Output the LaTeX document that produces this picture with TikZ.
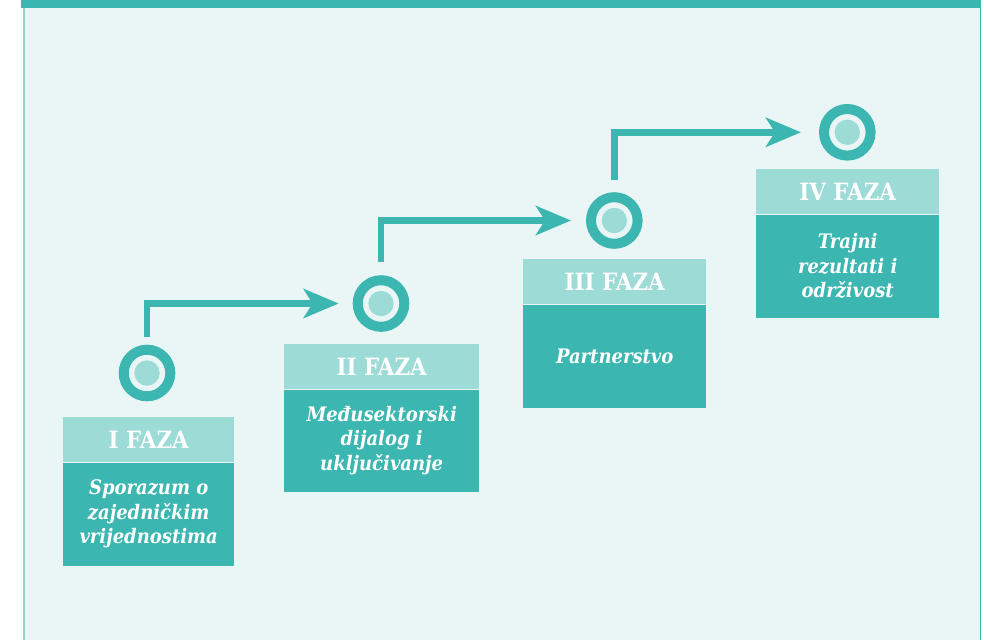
\documentclass[tikz,border=0pt]{standalone}
\usepackage{fontspec}
\setmainfont{DejaVu Serif Condensed}
\usetikzlibrary{arrows.meta}
\definecolor{faza}{HTML}{3BB6B0}
\definecolor{fazalight}{HTML}{9DDBD7}
\definecolor{panel}{HTML}{EAF6F6}
\definecolor{paneledge}{HTML}{8FD3CF}
\tikzset{
  head/.style={fill=fazalight, text=white, anchor=north west, inner sep=0pt,
    minimum height=45pt, font=\bfseries\fontsize{23.8}{25}\selectfont},
  body/.style={fill=faza, text=white, anchor=north west, inner sep=0pt,
    align=center, font=\bfseries\itshape\fontsize{20}{24.5}\selectfont},
  ring/.style={circle, draw=faza, line width=10pt, fill=panel, inner sep=0pt,
    minimum size=46.6pt,
    path picture={\fill[fazalight] (path picture bounding box.center) circle (12.7pt);}},
  flow/.style={draw=faza, line width=6.5pt,
    -{Stealth[length=35pt, width=29pt, inset=9pt]}}
}

\begin{document}
\begin{tikzpicture}[x=1pt, y=-1pt]
\useasboundingbox (0,0) rectangle (984,640);
% background panel
\fill[panel] (23,8) rectangle (980,640);
\draw[paneledge, line width=1.5pt] (23.8,8) -- (23.8,640);
\draw[faza, line width=1.3pt] (980.6,8) -- (980.6,640);
\fill[faza] (21,0) rectangle (981,8);

% phases
\node[head, minimum width=171pt] (h1) at (63,417) {I FAZA};
\node[body, minimum width=171pt, minimum height=103pt] (b1) at (h1.south west)
  {Sporazum o\\zajedničkim\\vrijednostima};
\node[head, minimum width=195pt] (h2) at (284,344) {II FAZA};
\node[body, minimum width=195pt, minimum height=102pt] (b2) at (h2.south west)
  {Međusektorski\\dijalog i\\uključivanje};
\node[head, minimum width=183pt] (h3) at (523,259) {III FAZA};
\node[body, minimum width=183pt, minimum height=103pt] (b3) at (h3.south west)
  {Partnerstvo};
\node[head, minimum width=183pt] (h4) at (756,169) {IV FAZA};
\node[body, minimum width=183pt, minimum height=103pt] (b4) at (h4.south west)
  {Trajni\\rezultati i\\održivost};

% markers
\node[ring] (c1) at (147,373) {};
\node[ring] (c2) at (381,303.5) {};
\node[ring] (c3) at (614.3,220.5) {};
\node[ring] (c4) at (847.3,132.3) {};

% steps
\foreach \p/\q/\gu/\gl in {c1/c2/8/14, c2/c3/13/15, c3/c4/12/18}
  \draw[flow] ([yshift=\gu pt]\p.north) |- ([xshift=-\gl pt]\q.west);
\end{tikzpicture}
\end{document}
